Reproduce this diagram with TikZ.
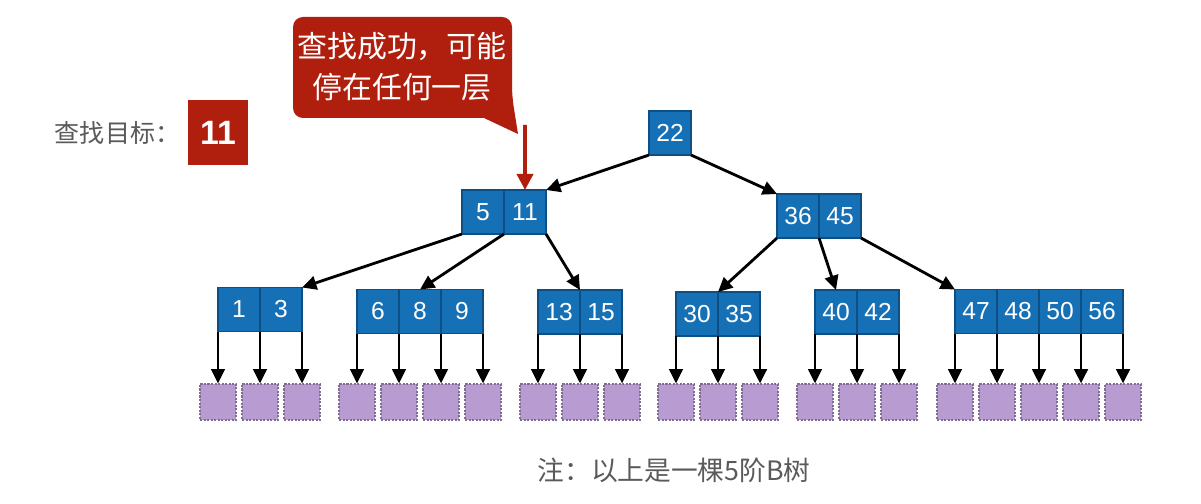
\documentclass[tikz,border=0pt]{standalone}
\usepackage{fontspec}
\setmainfont{Liberation Sans}
\newfontfamily\cjk{Noto Sans CJK SC}
\usetikzlibrary{arrows.meta, positioning}

\definecolor{cellblue}{HTML}{1670B5}
\definecolor{celledge}{HTML}{0D4E85}
\definecolor{nullpurple}{HTML}{B79BD1}
\definecolor{nulledge}{HTML}{7F6E91}
\definecolor{hitred}{HTML}{B01E0E}
\definecolor{notegray}{HTML}{5A5A5A}

\begin{document}
\begin{tikzpicture}[
  x=0.025cm, y=-0.025cm,
  cell/.style={rectangle, draw=celledge, line width=0.8pt, fill=cellblue,
               minimum width=1.05cm, minimum height=1.1cm, inner sep=0pt,
               outer sep=0pt, text=white, font=\fontsize{17.5}{20}\selectfont},
  nullbox/.style={rectangle, draw=nulledge, fill=nullpurple, line width=0.8pt,
                  dash pattern=on 1.5pt off 1pt, minimum size=0.9cm, inner sep=0pt},
  ptr/.style={-{Triangle[length=0.36cm, width=0.34cm]}, line width=2pt},
  hit/.style={-{Triangle[length=0.4cm, width=0.4cm]}, line width=2.6pt, draw=hitred}
]
  \useasboundingbox[fill=white] (0,0) rectangle (1201,504);

  % search target
  \node[anchor=west, text=notegray, font=\cjk\fontsize{17.8}{20}\selectfont] (goallbl) at (50,133) {查找目标：};
  \node[fill=hitred, minimum width=1.5cm, minimum height=1.625cm, text=white,
        font=\bfseries\fontsize{24}{28}\selectfont] (goal) at (218,132.5) {11};

  % callout
  \fill[hitred, rounded corners=0.25cm] (293,67) -- (293,17) -- (512,17) -- (512,96)
    [sharp corners] -- (518,134) -- (484,118) [rounded corners=0.25cm] -- (293,118) -- cycle;
  \node[text=white, align=center, font=\cjk\fontsize{21.3}{29}\selectfont] (callout) at (402,67)
    {查找成功，可能\\停在任何一层};

  % root and second level
  \node[cell] (r22) at (670,133) {22};
  \node[cell] (n5) at (483,212) {5};
  \node[cell, right=0pt of n5] (n11) {11};
  \node[cell] (n36) at (798,216) {36};
  \node[cell, right=0pt of n36] (n45) {45};

  % third level
  \node[cell] (k1) at (239,309.5) {1};
  \node[cell, right=0pt of k1] (k3) {3};
  \node[cell] (k6) at (378,311.5) {6};
  \node[cell, right=0pt of k6] (k8) {8};
  \node[cell, right=0pt of k8] (k9) {9};
  \node[cell] (k13) at (559,312) {13};
  \node[cell, right=0pt of k13] (k15) {15};
  \node[cell] (k30) at (697,314) {30};
  \node[cell, right=0pt of k30] (k35) {35};
  \node[cell] (k40) at (836,312) {40};
  \node[cell, right=0pt of k40] (k42) {42};
  \node[cell] (k47) at (976,311.5) {47};
  \node[cell, right=0pt of k47] (k48) {48};
  \node[cell, right=0pt of k48] (k50) {50};
  \node[cell, right=0pt of k50] (k56) {56};

  \draw[ptr] (r22.south west) -- (n11.north east);
  \draw[ptr] (r22.south east) -- (n36.north west);
  \draw[ptr] (n5.south west) -- (k3.north east);
  \draw[ptr] (n5.south east) -- (k8.north);
  \draw[ptr] (n11.south east) -- (k13.north east);
  \draw[ptr] (n36.south west) -- (k30.north east);
  \draw[ptr] (n36.south east) -- (k40.north);
  \draw[ptr] (n45.south east) -- (k47.north west);

  % empty subtrees
  \foreach \p [count=\i] in {k1.south west, k1.south east, k3.south east,
      k6.south west, k6.south east, k8.south east, k9.south east,
      k13.south west, k13.south east, k15.south east,
      k30.south west, k30.south east, k35.south east,
      k40.south west, k40.south east, k42.south east,
      k47.south west, k47.south east, k48.south east, k50.south east, k56.south east}{
    \coordinate (t) at (\p);
    \node[nullbox] (e\i) at (t |- 0,402) {};
    \draw[ptr] (\p) -- (e\i.north);
  }

  % hit marker
  \coordinate (hittop) at (525,125);
  \draw[hit] (hittop) -- (n11.north);

  \node[text=notegray, font=\cjk\fontsize{19}{22}\selectfont] (note) at (674,470) {注：以上是一棵5阶B树};
\end{tikzpicture}
\end{document}
